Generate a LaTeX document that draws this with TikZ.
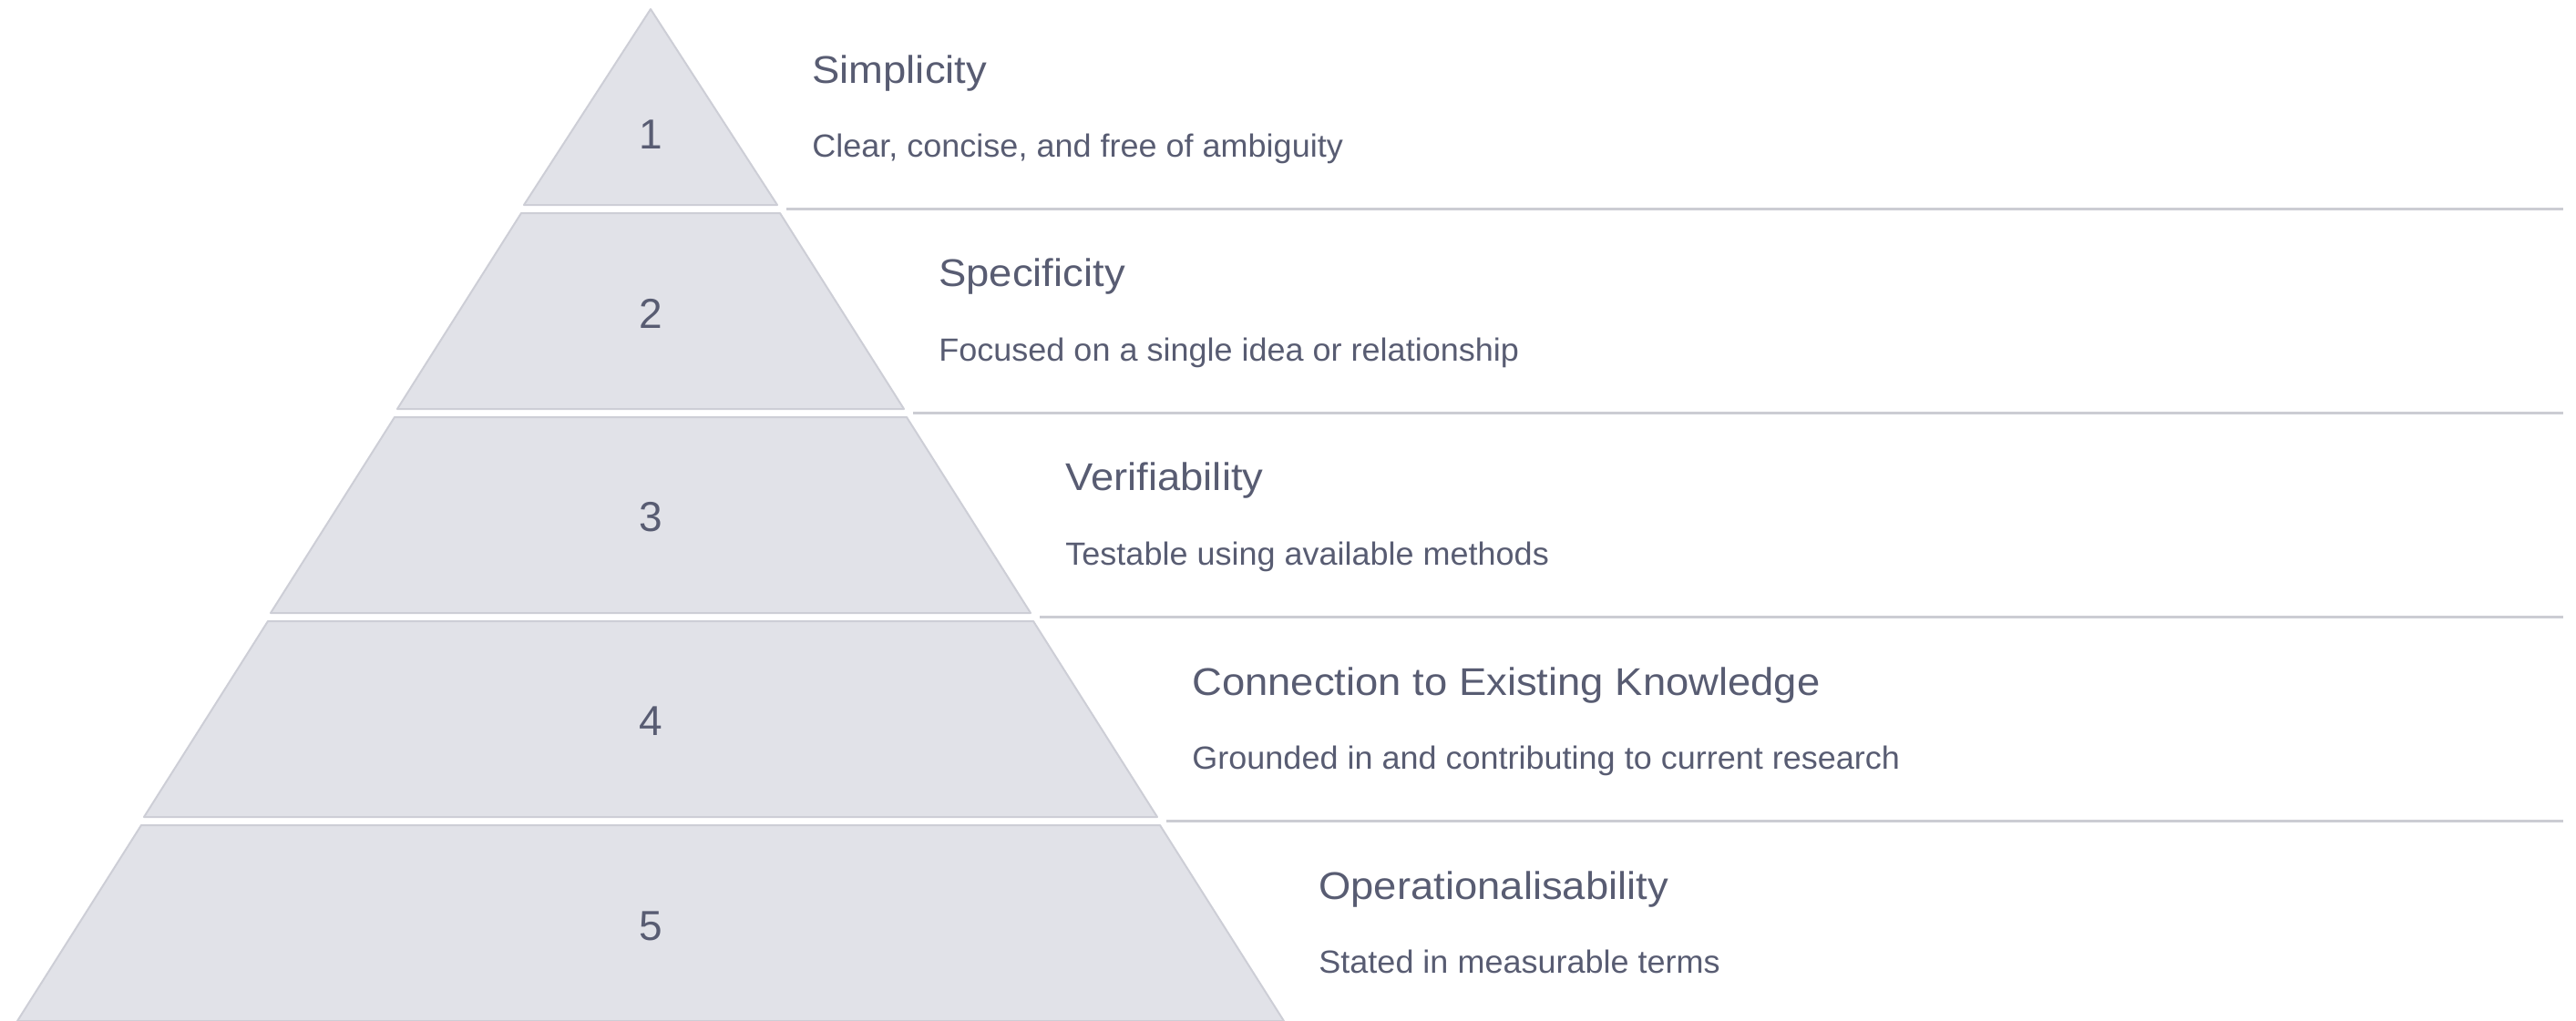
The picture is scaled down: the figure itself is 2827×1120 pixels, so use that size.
\documentclass[tikz,border=0pt]{standalone}
\usepackage{fontspec}
\setmainfont{Liberation Sans}
\newfontfamily\ttlfont[FakeStretch=1.071]{Liberation Sans}
\newfontfamily\dscfont[FakeStretch=1.023]{Liberation Sans}
\definecolor{tierfill}{HTML}{E1E2E8}
\definecolor{tierline}{HTML}{CDCED6}
\definecolor{txt}{HTML}{585C72}
\definecolor{divline}{HTML}{CBCCD3}
\begin{document}
\begin{tikzpicture}[x=0.5pt,y=-0.5pt,
  tier/.style={fill=tierfill,draw=tierline,line width=1pt,line join=round},
  divider/.style={draw=divline,line width=1.5pt},
  num/.style={text=txt,font=\fontsize{23}{27}\selectfont,inner sep=0pt,anchor=center},
  ttl/.style={text=txt,font=\ttlfont\fontsize{21.2}{25}\selectfont,inner sep=0pt,anchor=base west},
  dsc/.style={text=txt,font=\dscfont\fontsize{17.6}{21}\selectfont,inner sep=0pt,anchor=base west}]
\useasboundingbox (0,0) rectangle (2827,1120);
% tier 1 (apex)
\draw[tier] (714,10) -- (853,225) -- (575,225) -- cycle;
% tiers 2-5
\foreach \k in {2,3,4,5}{
  \pgfmathsetmacro{\yb}{225+224*(\k-1)}
  \pgfmathsetmacro{\yt}{\yb-215}
  \pgfmathsetmacro{\hb}{139*\k}
  \pgfmathsetmacro{\ht}{139*(\k-1)+3}
  \draw[tier] (714-\ht,\yt) -- (714+\ht,\yt) -- (714+\hb,\yb) -- (714-\hb,\yb) -- cycle;
}
% dividers
\foreach \k in {1,2,3,4}{
  \pgfmathsetmacro{\yd}{229+224*(\k-1)}
  \pgfmathsetmacro{\xs}{714+139*\k+10}
  \draw[divider] (\xs,\yd) -- (2813,\yd);
}
% numbers
\node[num] (n1) at (714,148) {1};
\node[num] (n2) at (714,344) {2};
\node[num] (n3) at (714,568) {3};
\node[num] (n4) at (714,792) {4};
\node[num] (n5) at (714,1017) {5};
% titles
\node[ttl] (t1) at (891,91) {Simplicity};
\node[ttl] (t2) at (1030,314) {Specificity};
\node[ttl] (t3) at (1169,538) {Verifiability};
\node[ttl] (t4) at (1308,763) {Connection to Existing Knowledge};
\node[ttl] (t5) at (1447,987) {Operationalisability};
% descriptions
\node[dsc] (d1) at (891,172) {Clear, concise, and free of ambiguity};
\node[dsc] (d2) at (1030,396) {Focused on a single idea or relationship};
\node[dsc] (d3) at (1169,620) {Testable using available methods};
\node[dsc] (d4) at (1308,844) {Grounded in and contributing to current research};
\node[dsc] (d5) at (1447,1068) {Stated in measurable terms};
\end{tikzpicture}
\end{document}
